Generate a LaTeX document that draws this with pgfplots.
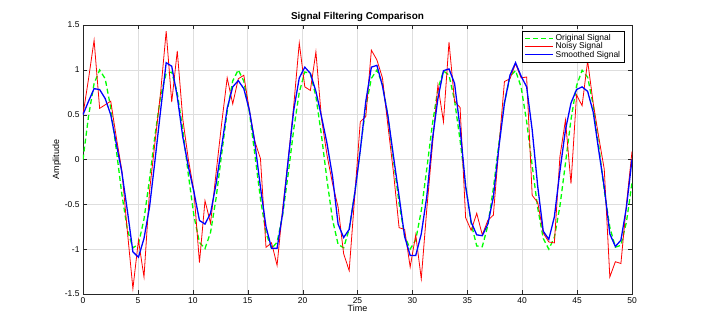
\documentclass[border=0pt]{standalone}
\usepackage{fontspec}
\setmainfont{Liberation Sans}
\usepackage{pgfplots}
\usepackage{pgfplotstable}
\pgfplotsset{compat=1.18}

% t, original, noisy, smoothed (100 samples on 0..50)
\pgfplotstableread{
t orig noisy smooth
0.0000 0.0000 0.50 0.50
0.5051 0.4839 0.90 0.65
1.0101 0.8469 1.33 0.79
1.5152 0.9984 0.57 0.78
2.0202 0.9008 0.61 0.68
2.5253 0.5781 0.65 0.50
3.0303 0.1111 0.25 0.18
3.5354 -0.3837 -0.12 -0.14
4.0404 -0.7826 -0.80 -0.57
4.5455 -0.9863 -1.44 -1.03
5.0505 -0.9433 -0.90 -1.09
5.5556 -0.6651 -1.31 -0.88
6.0606 -0.2208 -0.35 -0.53
6.5657 0.2788 0.20 0.00
7.0707 0.7085 0.75 0.55
7.5758 0.9615 1.43 1.08
8.0808 0.9744 0.64 1.04
8.5859 0.7440 1.21 0.70
9.0909 0.3277 0.45 0.25
9.5960 -0.1704 0.00 -0.08
10.1010 -0.6256 -0.35 -0.36
10.6061 -0.9250 -1.15 -0.68
11.1111 -0.9933 -0.46 -0.72
11.6162 -0.8135 -0.71 -0.60
12.1212 -0.4307 -0.15 -0.27
12.6263 0.0599 0.40 0.14
13.1313 0.5353 0.91 0.57
13.6364 0.8771 0.62 0.81
14.1414 1.0000 0.90 0.88
14.6465 0.8731 0.94 0.79
15.1515 0.5283 0.55 0.55
15.6566 0.0514 0.20 0.18
16.1616 -0.4382 0.01 -0.31
16.6667 -0.8183 -0.98 -0.75
17.1717 -0.9941 -0.93 -0.99
17.6768 -0.9218 -1.18 -0.99
18.1818 -0.6193 -0.55 -0.60
18.6869 -0.1620 0.00 -0.01
19.1919 0.3357 0.60 0.55
19.6970 0.7494 1.30 0.91
20.2020 0.9762 0.81 1.03
20.7071 0.9591 0.77 0.96
21.2121 0.7024 1.20 0.76
21.7172 0.2706 0.46 0.48
22.2222 -0.2290 0.05 0.18
22.7273 -0.6715 -0.27 -0.19
23.2323 -0.9461 -0.53 -0.72
23.7374 -0.9847 -1.05 -0.87
24.2424 -0.7772 -1.24 -0.78
24.7475 -0.3758 -0.41 -0.38
25.2525 0.1195 0.42 0.10
25.7576 0.5851 0.48 0.65
26.2626 0.9044 1.22 1.03
26.7677 0.9979 1.11 1.05
27.2727 0.8424 0.91 0.82
27.7778 0.4763 0.37 0.48
28.2828 -0.0085 -0.15 0.03
28.7879 -0.4913 -0.76 -0.41
29.2929 -0.8514 -0.78 -0.86
29.7980 -0.9989 -1.20 -1.07
30.3030 -0.8972 -0.84 -1.07
30.8081 -0.5711 -1.33 -0.83
31.3131 -0.1026 -0.55 -0.41
31.8182 0.3915 0.15 0.22
32.3232 0.7878 0.83 0.68
32.8283 0.9877 0.42 0.99
33.3333 0.9406 1.31 1.01
33.8384 0.6589 0.65 0.85
34.3434 0.2125 0.58 0.35
34.8485 -0.2869 -0.65 -0.30
35.3535 -0.7145 -0.79 -0.70
35.8586 -0.9638 -0.60 -0.84
36.3636 -0.9724 -0.84 -0.85
36.8687 -0.7381 -0.68 -0.72
37.3737 -0.3197 -0.62 -0.42
37.8788 0.1787 0.14 0.14
38.3838 0.6323 0.87 0.63
38.8889 0.9282 0.90 0.94
39.3939 0.9922 1.07 1.08
39.8990 0.8086 0.91 0.93
40.4040 0.4230 0.92 0.81
40.9091 -0.0683 -0.40 0.33
41.4141 -0.5425 -0.48 -0.30
41.9192 -0.8813 -0.82 -0.80
42.4242 -0.9999 -0.92 -0.89
42.9293 -0.8689 -0.93 -0.64
43.4343 -0.5210 0.03 -0.13
43.9394 -0.0429 0.44 0.33
44.4444 0.4459 -0.27 0.63
44.9495 0.8232 0.72 0.78
45.4545 0.9951 0.60 0.81
45.9596 0.9183 1.10 0.76
46.4646 0.6124 0.63 0.53
46.9697 0.1536 0.25 0.10
47.4747 -0.3437 -0.11 -0.31
47.9798 -0.7551 -1.31 -0.83
48.4848 -0.9780 -1.14 -0.97
48.9899 -0.9567 -1.16 -0.90
49.4949 -0.6966 -0.50 -0.53
50.0000 -0.2624 0.09 0.00
}\sigdata

\begin{document}
\begin{tikzpicture}
\begin{axis}[
  scale only axis, width=549bp, height=269bp,
  xmin=0, xmax=50, ymin=-1.5, ymax=1.5,
  xtick={0,5,10,15,20,25,30,35,40,45,50},
  ytick={-1.5,-1,-0.5,0,0.5,1,1.5},
  grid=major, grid style={black!13, line width=0.5pt},
  axis line style={black!85, line width=0.6pt},
  tick align=inside, major tick length=4bp, tick style={black!85},
  tick label style={font=\fontsize{8.5}{9}\selectfont},
  /pgf/number format/assume math mode=true,
  title={\textbf{Signal Filtering Comparison}},
  title style={font=\fontsize{10}{11}\selectfont, yshift=-6bp},
  xlabel={Time}, ylabel={Amplitude},
  label style={font=\fontsize{9}{10}\selectfont},
  xlabel style={yshift=5bp}, ylabel style={yshift=-3bp},
  legend cell align=left,
  legend image code/.code={\draw[#1] (0bp,0bp) -- (28bp,0bp);},
  legend style={at={(0.987,0.978)}, anchor=north east,
    font=\fontsize{8.5}{9}\selectfont, draw=black, line width=0.5pt,
    inner xsep=2.5bp, inner ysep=1.5bp, row sep=-3.5bp},
]
\addplot[green, line width=1.3pt, dash pattern=on 5bp off 3bp] table[x=t, y=orig] {\sigdata};
\addplot[red, line width=0.8pt] table[x=t, y=noisy] {\sigdata};
\addplot[blue, line width=1.3pt] table[x=t, y=smooth] {\sigdata};
\legend{Original Signal, Noisy Signal, Smoothed Signal}
\coordinate (ll) at (rel axis cs:0,0);
\coordinate (ur) at (rel axis cs:1,1);
\end{axis}
\pgfresetboundingbox
\path[use as bounding box] ([xshift=-83bp, yshift=-29bp]ll) rectangle ([xshift=71bp, yshift=25bp]ur);
\end{tikzpicture}
\end{document}
